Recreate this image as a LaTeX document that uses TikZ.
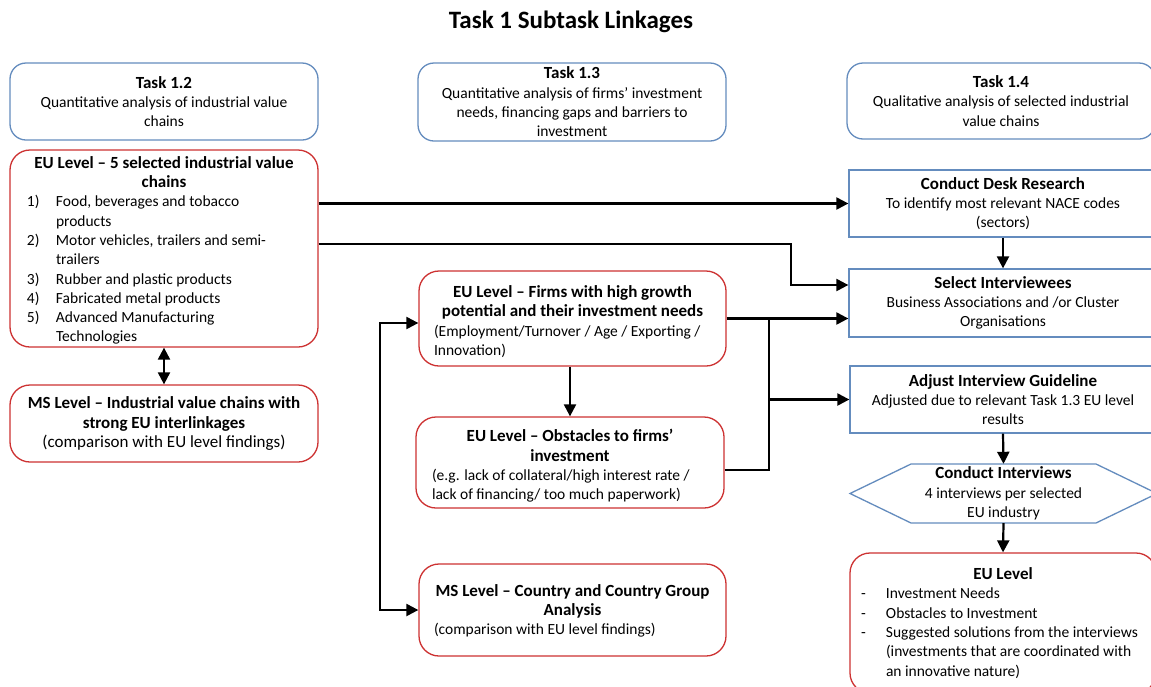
\documentclass[tikz,border=0pt]{standalone}
\usepackage{fontspec}
\setmainfont{Carlito}
\usetikzlibrary{arrows.meta}

\definecolor{boxblue}{RGB}{100,140,190}
\definecolor{boxred}{RGB}{205,50,50}

% heading type inside the boxes
\newcommand{\headtext}{\fontsize{17pt}{19.3pt}\selectfont\bfseries}
% numbered and dashed list lines with a hanging indent
\newcommand{\listnum}[2]{\par\leftskip=46pt\noindent\llap{\makebox[29pt][l]{#1}}#2\par}
\newcommand{\listdash}[2]{\par\leftskip=36pt\noindent\llap{\makebox[25pt][l]{#1}}#2\par}
\newcommand{\plainline}[2]{\par\leftskip=#1\noindent #2\par}

\tikzset{
  body/.style={font=\fontsize{15.5pt}{19.3pt}\selectfont, inner sep=0pt, align=center},
  taskbox/.style={body, draw=boxblue, line width=1.3pt, rounded corners=16pt},
  levelbox/.style={body, draw=boxred, line width=1.3pt, rounded corners=20pt},
  stepbox/.style={body, draw=boxblue, line width=1.3pt},
  link/.style={line width=2.2pt, black},
  conn/.style={link, -{Triangle[length=12pt,width=12pt]}},
  biconn/.style={link, {Triangle[length=12pt,width=12pt]}-{Triangle[length=12pt,width=12pt]}},
}

\begin{document}
\begin{tikzpicture}[x=1pt,y=-1pt]
\useasboundingbox (0,0) rectangle (1151,686);
\clip (0,0) rectangle (1151,686);
\fill[white] (0,0) rectangle (1151,686);

% title
\node[font=\fontsize{25pt}{30pt}\selectfont\bfseries] (title) at (571,22) {Task 1 Subtask Linkages};

% task headers
\node[taskbox, minimum width=308pt, minimum height=77pt] (t12) at (164,101.5)
  {{\headtext Task 1.2}\\Quantitative analysis of industrial value\\chains};
\node[taskbox, minimum width=308pt, minimum height=78pt] (t13) at (572,102)
  {{\headtext Task 1.3}\\Quantitative analysis of firms’ investment\\needs, financing gaps and barriers to\\investment};
\node[taskbox, minimum width=308pt, minimum height=76pt] (t14) at (1001,101)
  {{\headtext Task 1.4}\\Qualitative analysis of selected industrial\\value chains};

% Task 1.2 column
\node[levelbox, minimum width=308pt, minimum height=197pt] (eu5) at (164,248.5)
  {\begin{minipage}{308pt}
   \vspace{4pt}
   {\centering\headtext EU Level – 5 selected industrial value\\chains\par}
   \raggedright
   \listnum{1)}{Food, beverages and tobacco\\products}
   \listnum{2)}{Motor vehicles, trailers and semi-\\trailers}
   \listnum{3)}{Rubber and plastic products}
   \listnum{4)}{Fabricated metal products}
   \listnum{5)}{Advanced Manufacturing\\Technologies}
   \end{minipage}};
\node[levelbox, minimum width=308pt, minimum height=77pt,
      font=\fontsize{17pt}{19.5pt}\selectfont] (ms) at (164,423.5)
  {{\headtext MS Level – Industrial value chains with}\\{\headtext strong EU interlinkages}\\(comparison with EU level findings)};

% Task 1.3 column
\node[levelbox, minimum width=307pt, minimum height=95pt] (firms) at (572.5,318.5)
  {\begin{minipage}{307pt}
   \vspace{6pt}
   {\centering\headtext EU Level – Firms with high growth\\potential and their investment needs\par}
   \raggedright
   \plainline{15pt}{(Employment/Turnover / Age / Exporting /\\Innovation)}
   \end{minipage}};
\node[levelbox, minimum width=308pt, minimum height=91pt] (obst) at (570,462.5)
  {\begin{minipage}{308pt}
   \vspace{7pt}
   {\centering\headtext EU Level – Obstacles to firms’\\investment\par}
   \raggedright
   \plainline{16pt}{(e.g. lack of collateral/high interest rate /\\lack of financing/ too much paperwork)}
   \end{minipage}};
\node[levelbox, minimum width=307pt, minimum height=92pt] (msc) at (572.5,610)
  {\begin{minipage}{307pt}
   \vspace{2pt}
   {\centering\headtext MS Level – Country and Country Group\\Analysis\par}
   \raggedright
   \plainline{15pt}{(comparison with EU level findings)}
   \end{minipage}};

% Task 1.4 column
\node[stepbox, minimum width=308pt, minimum height=67pt] (desk) at (1003,203.5)
  {{\headtext Conduct Desk Research}\\To identify most relevant NACE codes\\(sectors)};
\node[stepbox, minimum width=308pt, minimum height=68pt] (select) at (1003,303)
  {{\headtext Select Interviewees}\\Business Associations and /or Cluster\\Organisations};
\node[stepbox, minimum width=306pt, minimum height=67pt] (adjust) at (1003,399.5)
  {{\headtext Adjust Interview Guideline}\\Adjusted due to relevant Task 1.3 EU level\\results};
\draw[boxblue, line width=1.3pt] (850,493.5) -- (911,464) -- (1096,464) -- (1157,493.5)
  -- (1096,523) -- (911,523) -- cycle;
\node[body, minimum width=200pt, minimum height=59pt] (intv) at (1003.5,493.5)
  {{\headtext Conduct Interviews}\\4 interviews per selected\\EU industry};
\node[levelbox, minimum width=306pt, minimum height=140pt] (eur) at (1003,623)
  {\begin{minipage}{306pt}
   {\centering\headtext EU Level\par}
   \raggedright
   \listdash{-}{Investment Needs}
   \listdash{-}{Obstacles to Investment}
   \listdash{-}{Suggested solutions from the interviews\\(investments that are coordinated with\\an innovative nature)}
   \end{minipage}};

% connectors
\draw[biconn] (eu5.south) -- (ms.north);
\draw[conn] (eu5.east |- desk.west) -- (desk.west);
\draw[conn] ([yshift=4.5pt]eu5.east) -- ++(472,0) |- ([yshift=18pt]select.west);
\draw[conn] (firms.east) -- (firms.east -| select.west);
\coordinate (jn) at ([xshift=42pt]firms.east);
\draw[link] ([yshift=-7.5pt]obst.east) -| (jn);
\draw[conn] (jn |- adjust.west) -- (adjust.west);
\draw[conn] (obst.north |- firms.south) -- (obst.north);
\draw[biconn] ([yshift=-4.5pt]firms.west) -- ++(-38,0) |- (msc.west);
\draw[conn] (desk.south) -- (select.north);
\draw[conn] (adjust.south) -- (intv.north);
\draw[conn] (intv.south) -- (eur.north);
\end{tikzpicture}
\end{document}
